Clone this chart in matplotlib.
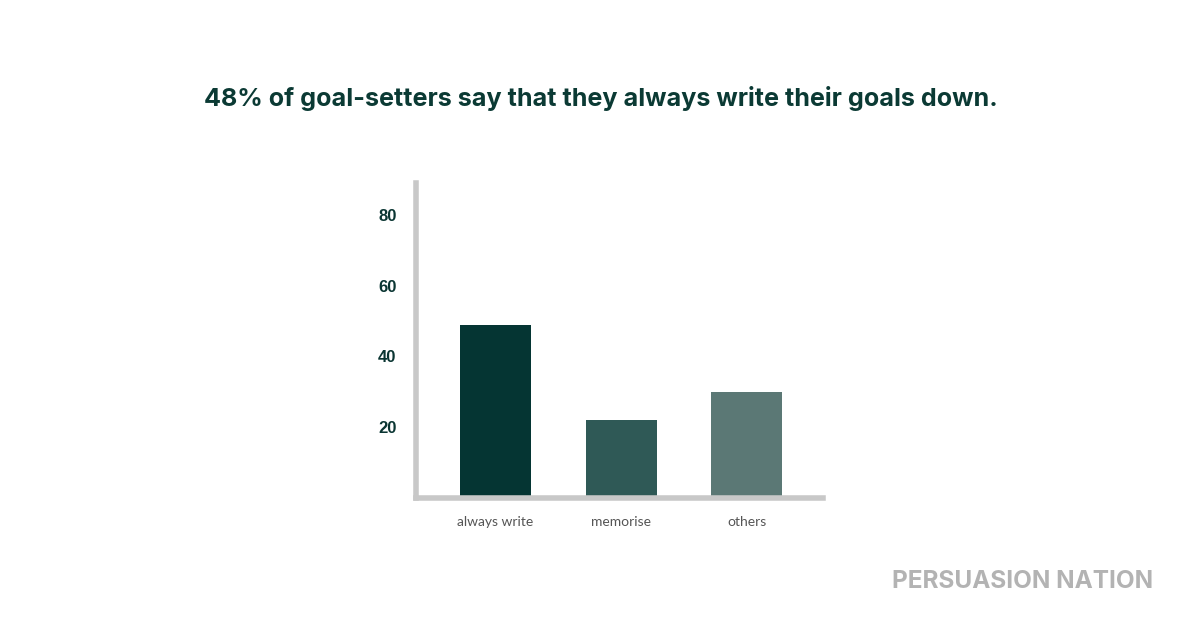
import matplotlib.pyplot as plt

categories = ['always write', 'memorise', 'others']
values = [49, 22, 30]
bar_colors = ['#053533', '#2f5956', '#5b7875']
y_ticks = [20, 40, 60, 80]

title = '48% of goal-setters say that they always write their goals down.'
watermark = 'PERSUASION NATION'

fig = plt.figure(figsize=(12.01, 6.29), dpi=100)
fig.patch.set_facecolor('white')

ax = fig.add_axes([0.3464, 0.2083, 0.3389, 0.5008])
x = range(len(categories))
ax.bar(x, values, width=0.565, color=bar_colors, zorder=2)

ax.set_xlim(-0.63, 2.605)
ax.set_ylim(0, 89)

# only left and bottom axis lines, thick light grey
for side in ['top', 'right']:
    ax.spines[side].set_visible(False)
for side in ['left', 'bottom']:
    ax.spines[side].set_color('#c8c8c8')
    ax.spines[side].set_linewidth(4)
    ax.spines[side].set_zorder(3)

ax.set_yticks(y_ticks)
ax.set_yticklabels([str(t) for t in y_ticks], fontsize=12, fontweight='bold',
                   color='#0a3532', family='Liberation Sans')
ax.tick_params(axis='y', length=0, pad=14)

ax.set_xticks(list(x))
ax.set_xticklabels(categories, fontsize=10, color='#555555', family='Lato')
ax.tick_params(axis='x', length=0, pad=13)

fig.text(0.5005, 0.843, title, ha='center', va='center', fontsize=18.1,
         fontweight='bold', color='#0b3a34', family='Inter')
fig.text(0.8517, 0.075, watermark, ha='center', va='center', fontsize=17.5,
         fontweight='bold', color='#b3b3b3', family='Inter')

fig.savefig('out.png', dpi=100, facecolor='white')
